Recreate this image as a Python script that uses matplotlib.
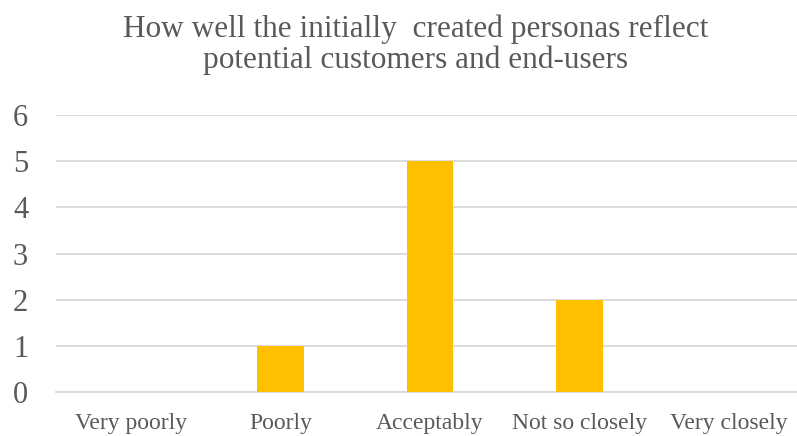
import matplotlib.pyplot as plt
import numpy as np

plt.rcParams['font.family'] = ['Liberation Serif', 'DejaVu Serif']

categories = ["Very poorly", "Poorly", "Acceptably", "Not so closely", "Very closely"]
counts = [0, 1, 5, 2, 0]
yticks = [0, 1, 2, 3, 4, 5, 6]
title = "How well the initially  created personas reflect\npotential customers and end-users"

text_color = "#595959"
bar_color = "#FFC000"
grid_color = "#D9D9D9"

fig = plt.figure(figsize=(7.97, 4.36), dpi=100)
# plot area spans a bit past the right edge, like the cropped original
ax = fig.add_axes([56 / 797, (436 - 392) / 436, 748 / 797, 277 / 436])

x = np.arange(len(categories))
ax.bar(x, counts, width=0.31, color=bar_color, zorder=3)

ax.set_xlim(-0.5, len(categories) - 0.5)
ax.set_ylim(0, 6)
ax.set_yticks(yticks)
ax.set_xticks(x)
ax.set_xticklabels(categories, fontsize=17, color=text_color)
ax.set_yticklabels([str(t) for t in yticks], fontsize=22, color=text_color)
ax.tick_params(axis='both', length=0)
ax.tick_params(axis='y', pad=20)
ax.tick_params(axis='x', pad=15)

ax.grid(axis='y', color=grid_color, linewidth=1.3, zorder=0)
for side in ['top', 'right', 'left']:
    ax.spines[side].set_visible(False)
ax.spines['bottom'].set_color(grid_color)
ax.spines['bottom'].set_linewidth(1.3)

fig.text(416 / 797, 1 - 45 / 436, title, ha='center', va='center',
         fontsize=22.5, color=text_color, linespacing=1.05)

plt.savefig("out.png", dpi=100)
plt.close()
